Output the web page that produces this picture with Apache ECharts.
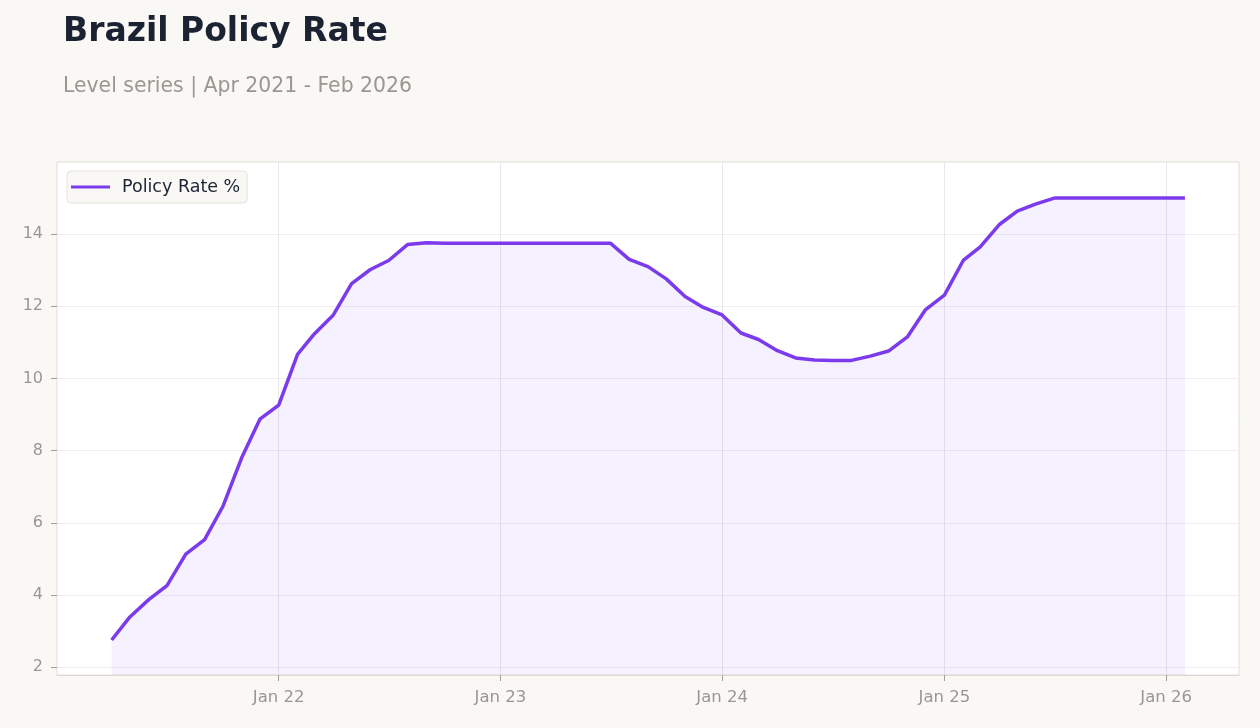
<!DOCTYPE html>
<html>
<head>
<meta charset="utf-8">
<script src="https://cdn.jsdelivr.net/npm/echarts@6/dist/echarts.min.js"></script>
<style>
html,body{margin:0;padding:0;background:#f9f8f5;}
#chart{width:1260px;height:728px;}
</style>
</head>
<body>
<div id="chart"></div>
<script>
const months = [
  '2021-04-01','2021-05-01','2021-06-01','2021-07-01','2021-08-01','2021-09-01','2021-10-01','2021-11-01','2021-12-01',
  '2022-01-01','2022-02-01','2022-03-01','2022-04-01','2022-05-01','2022-06-01','2022-07-01','2022-08-01','2022-09-01','2022-10-01','2022-11-01','2022-12-01',
  '2023-01-01','2023-02-01','2023-03-01','2023-04-01','2023-05-01','2023-06-01','2023-07-01','2023-08-01','2023-09-01','2023-10-01','2023-11-01','2023-12-01',
  '2024-01-01','2024-02-01','2024-03-01','2024-04-01','2024-05-01','2024-06-01','2024-07-01','2024-08-01','2024-09-01','2024-10-01','2024-11-01','2024-12-01',
  '2025-01-01','2025-02-01','2025-03-01','2025-04-01','2025-05-01','2025-06-01','2025-07-01','2025-08-01','2025-09-01','2025-10-01','2025-11-01','2025-12-01',
  '2026-01-01','2026-02-01'
];
const policyRate = [
  2.75, 3.39, 3.87, 4.26, 5.13, 5.53, 6.45, 7.8, 8.87,
  9.26, 10.67, 11.24, 11.76, 12.63, 13.02, 13.27, 13.71, 13.76, 13.75, 13.75, 13.75,
  13.75, 13.75, 13.75, 13.75, 13.75, 13.75, 13.75, 13.3, 13.1, 12.76, 12.27, 11.97,
  11.76, 11.26, 11.08, 10.77, 10.57, 10.51, 10.5, 10.5, 10.62, 10.76, 11.15, 11.91,
  12.31, 13.27, 13.65, 14.26, 14.64, 14.84, 15.0, 15.0, 15.0, 15.0, 15.0, 15.0,
  15.0, 15.0
];
const xTickDates = ['2022-01-01','2023-01-01','2024-01-01','2025-01-01','2026-01-01'];
const yTicks = [2, 4, 6, 8, 10, 12, 14];

const ts = d => Date.UTC(+d.slice(0,4), +d.slice(5,7) - 1, +d.slice(8,10));
const xTicks = xTickDates.map(ts);
const seriesData = months.map((m, i) => [ts(m), policyRate[i]]);
const mon = ['Jan','Feb','Mar','Apr','May','Jun','Jul','Aug','Sep','Oct','Nov','Dec'];

const chart = echarts.init(document.getElementById('chart'));
chart.setOption({
  backgroundColor: '#f9f8f5',
  animation: false,
  textStyle: { fontFamily: 'DejaVu Sans' },
  title: [
    { text: 'Brazil Policy Rate', left: 58, top: 11,
      textStyle: { fontSize: 33, fontWeight: 'bold', color: '#1b2333', fontFamily: 'DejaVu Sans' } },
    { text: 'Level series | Apr 2021 - Feb 2026', left: 58, top: 72,
      textStyle: { fontSize: 20.4, fontWeight: 'normal', color: '#9a9692', fontFamily: 'DejaVu Sans' } }
  ],
  legend: {
    left: 67, top: 171,
    backgroundColor: '#f9f8f5',
    borderColor: '#e6e1da', borderWidth: 1, borderRadius: 4,
    padding: [7, 7, 7, 4],
    itemWidth: 39, itemHeight: 3,
    textStyle: { fontSize: 17.5, color: '#1b2333', padding: [0, 0, 0, 7] },
    data: [{ name: 'Policy Rate %', icon: 'path://M0,0 L39,0 L39,3 L0,3 Z' }]
  },
  grid: {
    left: 57, top: 162, right: 21, bottom: 53,
    show: true, backgroundColor: '#ffffff', borderColor: '#e2ddd6', borderWidth: 1
  },
  xAxis: {
    type: 'value',
    min: Date.UTC(2021, 0, 1),
    max: Date.UTC(2026, 4, 1),
    axisLine: { show: true, lineStyle: { color: '#dcd8d2' } },
    axisTick: { show: true, length: 6, customValues: xTicks, lineStyle: { color: '#a19d98' } },
    axisLabel: {
      customValues: xTicks, fontSize: 16.5, color: '#9a9692', margin: 14,
      formatter: v => { const d = new Date(v); return mon[d.getUTCMonth()] + ' ' + String(d.getUTCFullYear()).slice(2); }
    },
    splitLine: { show: true, lineStyle: { color: '#e9e6ec', width: 1 } }
  },
  yAxis: {
    type: 'value', min: 1.78, max: 16,
    axisLine: { show: false },
    axisTick: { show: true, length: 6, customValues: yTicks, lineStyle: { color: '#a19d98' } },
    axisLabel: { customValues: yTicks, fontSize: 16, color: '#9a9692', margin: 14 },
    splitLine: { show: true, lineStyle: { color: '#efedf0', width: 1 } }
  },
  series: [{
    name: 'Policy Rate %',
    type: 'line',
    data: seriesData,
    showSymbol: false,
    symbol: 'none',
    lineStyle: { color: '#7c3aed', width: 3.5 },
    itemStyle: { color: '#7c3aed' },
    areaStyle: { color: 'rgba(124,58,237,0.1)' }
  }]
});
</script>
</body>
</html>
